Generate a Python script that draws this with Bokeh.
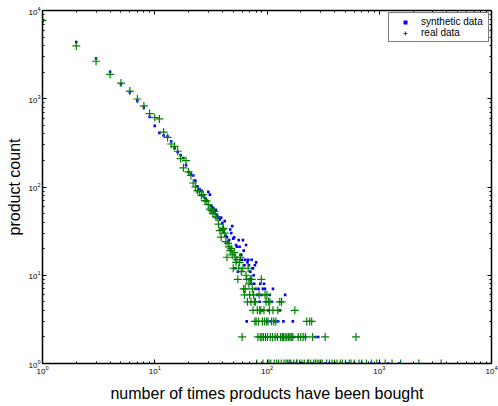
from bokeh.plotting import figure
from bokeh.models import (Range1d, LogAxis, FixedTicker, CustomJSTickFormatter,
                          Legend, LegendItem)
from bokeh.embed import file_html
from bokeh.resources import INLINE

# ---------------- data ----------------
real_x = [1, 2, 3, 4, 5, 6, 7, 8, 9, 10, 11, 12, 13, 14, 15, 16, 17, 18, 19, 20,
          21, 22, 23, 24, 25, 26, 27, 28, 29, 30, 31, 32, 33, 34, 35, 36, 37, 38, 39, 40,
          41, 42, 43, 44, 45, 46, 47, 48, 49, 50, 51, 52, 53, 54, 55, 56, 57, 58, 59, 60,
          61, 62, 63, 64, 65, 66, 67, 68, 69, 70, 71, 72, 73, 74, 75, 76, 77, 78, 79, 80,
          81, 82, 83, 84, 85, 86, 87, 88, 89, 90, 91, 92, 93, 94, 95, 96, 97, 98, 99, 100,
          101, 102, 103, 104, 105, 106, 107, 108, 110, 112, 113, 115, 116, 118, 120, 122,
          124, 125, 127, 130, 132, 134, 135, 137, 140, 142, 145, 148, 150, 153, 155, 158,
          160, 163, 165, 170, 173, 177, 183, 185, 190, 195, 200, 205, 210, 215, 220, 226,
          230, 235, 240, 245, 250, 255, 260, 270, 280, 290, 300, 310, 330, 340, 360, 380,
          400, 420, 450, 470, 500, 540, 560, 600, 620, 660, 700, 770, 850, 950, 1130, 1300,
          1550, 2250, 3560]
real_y = [7700, 3970, 2660, 1885, 1505, 1223, 993, 829, 680, 613, 591, 419, 365, 307, 289, 254, 210, 165, 199, 148,
          135, 111, 100, 91, 88, 80, 82, 70, 69, 63, 56, 54, 50, 53, 46, 45, 38, 32, 27, 33,
          34, 30, 24, 16, 23, 21, 19, 20, 17, 12, 18, 16, 14, 15, 9, 12, 14, 16, 11, 2,
          12, 7, 6, 7, 10, 9, 5, 12, 8, 6, 9, 5, 9, 7, 4, 6, 5, 3, 5, 3,
          1, 4, 2, 3, 6, 4, 2, 4, 9, 2, 3, 1, 2, 4, 3, 6, 2, 5, 3, 6,
          2, 3, 5, 1, 4, 5, 2, 1, 3, 2, 4, 3, 1, 2, 3, 1,
          2, 4, 1, 5, 2, 1, 5, 2, 2, 1, 2, 1, 2, 1, 2, 1,
          2, 1, 2, 2, 1, 4, 1, 1, 2, 1, 2, 1, 2, 1, 2, 3,
          1, 1, 3, 1, 3, 2, 1, 1, 1, 1, 1, 1, 2, 1, 1, 1,
          1, 1, 1, 1, 1, 1, 1, 1, 2, 1, 1, 1, 1, 1, 1, 1,
          1, 1, 1]

synthetic_x = [1, 2, 3, 4, 5, 6, 7, 8, 9, 10, 11, 12, 13, 14, 15, 16, 17, 18, 19, 20,
               21, 22, 23, 24, 25, 26, 27, 28, 29, 30, 31, 32, 33, 34, 35, 36, 37, 38, 39, 40,
               41, 42, 43, 44, 45, 46, 47, 48, 49, 50, 51, 52, 53, 54, 55, 56, 57, 58, 59, 60,
               61, 62, 63, 64, 65, 66, 67, 68, 69, 70, 71, 72, 73, 74, 75, 76, 77, 78, 79, 80,
               82, 84, 86, 87, 89, 91, 92, 94, 96, 98, 100, 103, 106, 108, 110, 113, 117, 120,
               122, 125, 130, 135, 140, 145, 150, 155, 160, 165, 170, 175, 180, 190, 200, 210,
               220, 230, 250, 270, 286, 300, 330, 360, 400, 450, 520, 600, 700, 850, 1000, 1200,
               1500]
synthetic_y = [7500, 4400, 2860, 2020, 1465, 1183, 953, 795, 623, 493, 411, 384, 374, 329, 276, 249, 230, 213, 177, 148,
               140, 135, 118, 102, 95, 91, 80, 75, 70, 88, 82, 61, 58, 51, 55, 48, 45, 43, 45, 39,
               31, 41, 28, 27, 24, 25, 33, 30, 36, 26, 27, 12, 22, 21, 11, 25, 21, 17, 17, 15,
               25, 19, 13, 15, 22, 3, 14, 15, 13, 9, 11, 8, 15, 12, 12, 10, 8, 13, 7, 14,
               6, 7, 5, 8, 6, 4, 7, 8, 7, 5, 3, 4, 6, 3, 5, 7, 3, 2,
               2, 3, 4, 2, 3, 6, 2, 1, 2, 1, 3, 2, 1, 2, 1, 1,
               2, 1, 1, 2, 2, 1, 1, 1, 1, 1, 1, 1, 1, 1, 1, 1,
               1]

decades = [1, 10, 100, 1000, 10000]
minor_mult = [2, 3, 4, 5, 6, 7, 8, 9]

legend_labels = ["synthetic data", "real data"]
x_label = "number of times products have been bought"
y_label = "product count"

FONT = "Liberation Sans"

# ---------------- figure ----------------
p = figure(width=498, height=404, x_axis_type="log", y_axis_type="log",
           x_range=Range1d(1, 10000), y_range=Range1d(1, 10000),
           output_backend="svg", toolbar_location=None,
           min_border_left=42, min_border_right=7, min_border_top=10, min_border_bottom=39)
p.xgrid.visible = False
p.ygrid.visible = False
p.outline_line_color = "black"
p.outline_line_width = 1
p.background_fill_color = "white"
p.border_fill_color = "white"

minor = [m * d for d in decades[:-1] for m in minor_mult]


def style_axis(ax, labels=True):
    ax.ticker = FixedTicker(ticks=decades, minor_ticks=minor)
    ax.axis_line_color = "black"
    ax.axis_line_width = 1.5
    ax.major_tick_in = 4
    ax.major_tick_out = 0
    ax.minor_tick_in = 2
    ax.minor_tick_out = 0
    ax.major_tick_line_color = "black"
    ax.minor_tick_line_color = "black"
    ax.major_tick_line_width = 1
    ax.minor_tick_line_width = 1
    ax.major_label_text_font = FONT
    ax.major_label_text_font_size = "8px"
    ax.major_label_text_color = "black"
    if labels:
        ax.major_label_standoff = 2
    else:
        ax.formatter = CustomJSTickFormatter(code="return ''")
        ax.major_label_standoff = 0


style_axis(p.xaxis[0])
style_axis(p.yaxis[0])
for ax in (p.xaxis[0], p.yaxis[0]):
    ax.axis_label_text_font = FONT
    ax.axis_label_text_font_size = "16px"
    ax.axis_label_text_font_style = "normal"
    ax.axis_label_text_color = "black"
p.xaxis[0].axis_label_standoff = 8
p.yaxis[0].axis_label_standoff = 2
p.xaxis[0].axis_label = x_label
p.yaxis[0].axis_label = y_label

top = LogAxis()
right = LogAxis()
style_axis(top, labels=False)
style_axis(right, labels=False)
p.add_layout(top, "above")
p.add_layout(right, "right")

# ---------------- glyphs ----------------
r_syn = p.scatter(synthetic_x, synthetic_y, marker="square", size=2.6,
                  fill_color="#0000ff", line_color=None)
r_real = p.scatter(real_x, real_y, marker="cross", size=8,
                   line_color="#008000", line_width=1.2)

legend = Legend(items=[LegendItem(label=legend_labels[0], renderers=[r_syn]),
                       LegendItem(label=legend_labels[1], renderers=[r_real])],
                location="top_right")
legend.label_text_font = FONT
legend.label_text_font_size = "10px"
legend.label_text_color = "black"
legend.label_height = 10
legend.glyph_height = 10
legend.glyph_width = 26
legend.label_standoff = 3
legend.label_width = 64
legend.padding = 3
legend.spacing = 0
legend.margin = 2
legend.border_line_color = "black"
legend.border_line_width = 1
legend.background_fill_color = "white"
legend.background_fill_alpha = 1
p.add_layout(legend)

open("out.html", "w").write(file_html(p, INLINE))
